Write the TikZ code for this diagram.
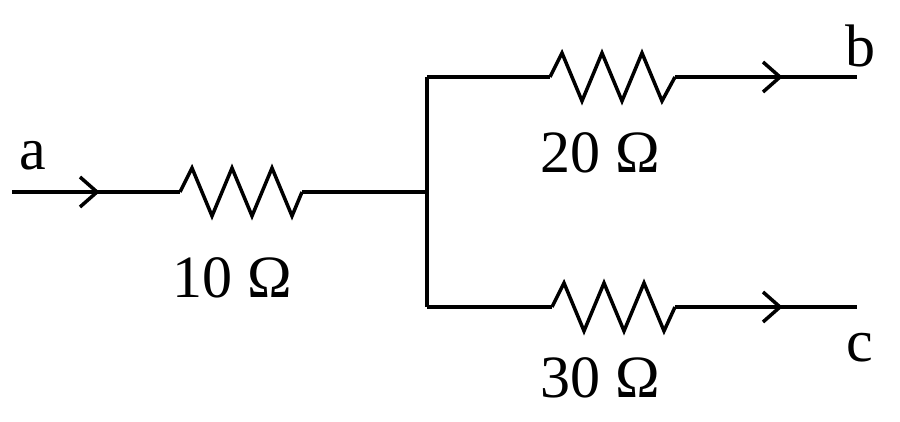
\documentclass[tikz,border=0pt]{standalone}
\usepackage{fontspec}
\setmainfont{Liberation Serif}
\begin{document}
\begin{tikzpicture}[x=1pt,y=-1pt,line width=3.5pt,line join=miter,
  lab/.style={font=\fontsize{60}{60}\selectfont,inner sep=0pt},
  chev/.pic={\draw[line cap=butt] (-17,-15) -- (0,0) -- (-17,15);}]
\useasboundingbox (0,0) rectangle (900,422);
\def\res#1#2#3{% start x, y, end x
  \draw (#1,#2) -- ++(12,-24) -- ++(20,48) -- ++(20,-48) -- ++(20,48) -- ++(20,-48) -- ++(20,48) -- (#3,#2);}
\coordinate (a0) at (12,192);
\coordinate (r1s) at (180,192);
\coordinate (r1e) at (302,192);
\coordinate (j) at (427,192);
\coordinate (jt) at (427,77);
\coordinate (jb) at (427,307);
\coordinate (r2s) at (550,77);
\coordinate (r2e) at (675,77);
\coordinate (bend) at (857,77);
\coordinate (r3s) at (552,307);
\coordinate (r3e) at (675,307);
\coordinate (cend) at (857,307);
\draw (a0) -- (r1s);
\res{180}{192}{302}
\draw (r1e) -- (j);
\draw (jt) -- (jb);
\draw (jt) -- (r2s);
\res{550}{77}{675}
\draw (r2e) -- (bend);
\draw (jb) -- (r3s);
\res{552}{307}{675}
\draw (r3e) -- (cend);
\pic at (97,192) {chev};
\pic at (780,77) {chev};
\pic at (780,307) {chev};
\node[lab] (la) at (33,156) {a};
\node[lab] (lb) at (860,46) {b};
\node[lab] (lc) at (860,348) {c};
\node[lab] (l10) at (232,278) {10 Ω};
\node[lab] (l20) at (600,153) {20 Ω};
\node[lab] (l30) at (600,378) {30 Ω};
\end{tikzpicture}
\end{document}
